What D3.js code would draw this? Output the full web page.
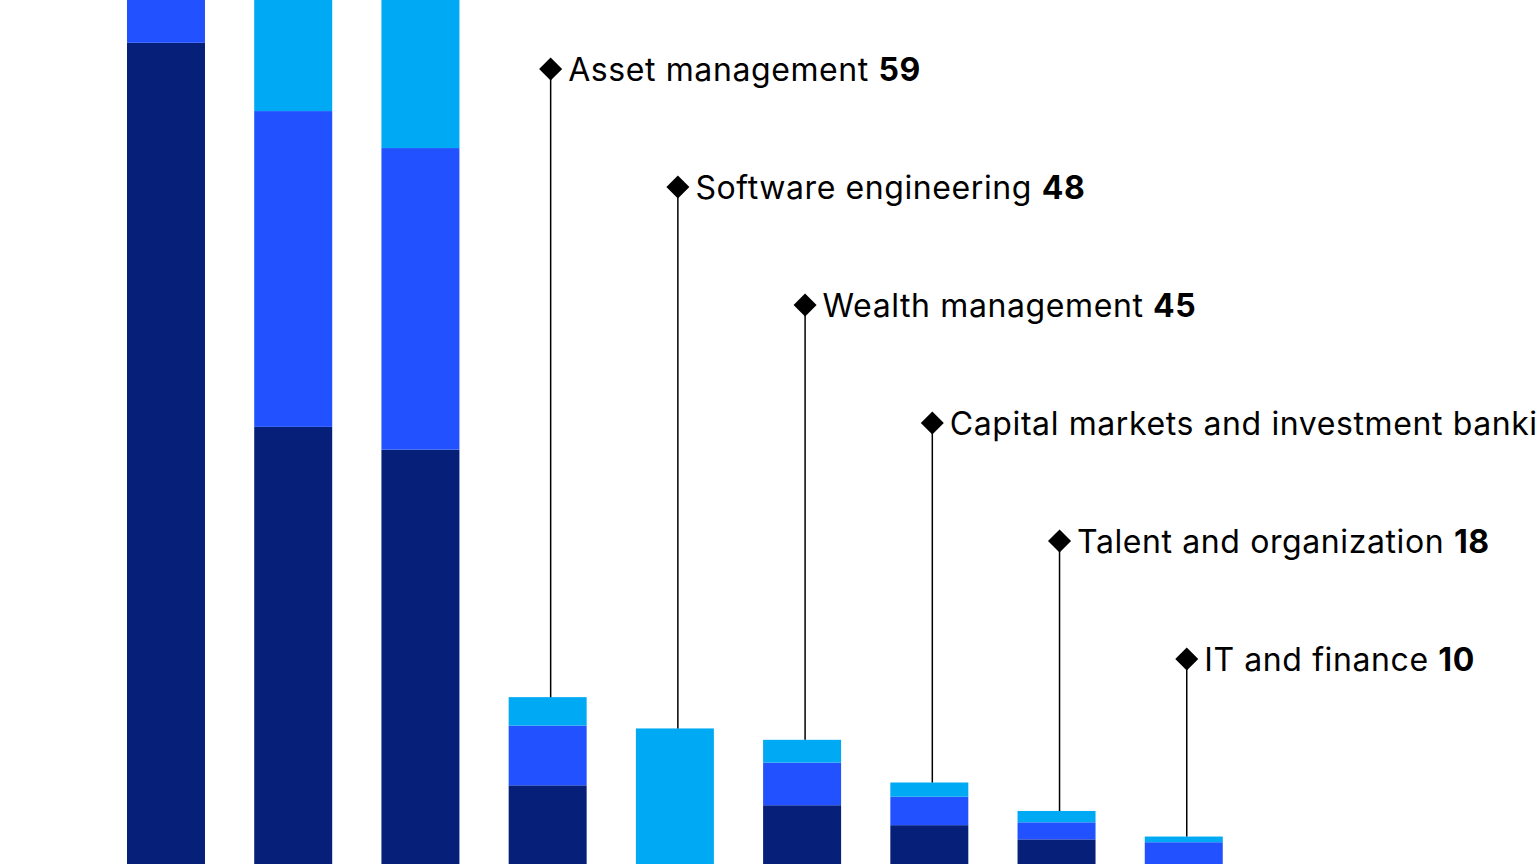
<!DOCTYPE html>
<html>
<head>
<meta charset="utf-8">
<script src="https://cdn.jsdelivr.net/npm/d3@7"></script>
<style>
  html, body { margin: 0; padding: 0; background: #fff; overflow: hidden; }
  svg { display: block; }
  text { font-family: Inter, "Liberation Sans", Arial, sans-serif; }
</style>
</head>
<body>
<svg id="chart" width="1536" height="864"></svg>
<script>
// ---- data ----
const categories = [
  "Group 1", "Group 2", "Group 3",
  "Asset management", "Software engineering", "Wealth management",
  "Capital markets and investment banking", "Talent and organization", "IT and finance"
];
const darkValues  = [289, 154, 146, 28, 0, 21, 14, 9, 0];
const blueValues  = [30, 111, 106, 21, 0, 15, 10, 6, 8];
const lightValues = [15, 50, 60, 10, 48, 8, 5, 4, 2];
const labelValues = [null, null, null, 59, 48, 45, 29, 18, 10];
const seriesKeys  = ["dark", "blue", "light"];
const seriesColors = ["#061F79", "#2251FF", "#00A9F4"];

// ---- build table ----
const table = categories.map((c, i) => ({
  category: c,
  dark: darkValues[i],
  blue: blueValues[i],
  light: lightValues[i],
  label: labelValues[i]
}));

const W = 1536, H = 864;
const svg = d3.select("#chart");

const x = d3.scaleBand()
  .domain(categories)
  .range([127, 1222.75])
  .paddingInner(0.387)
  .paddingOuter(0);

const y = d3.scaleLinear()
  .domain([0, 300])
  .range([865, 11.5]);

const color = d3.scaleOrdinal().domain(seriesKeys).range(seriesColors);

const stacked = d3.stack().keys(seriesKeys)(table);

svg.append("g")
  .selectAll("g")
  .data(stacked)
  .join("g")
  .attr("fill", d => color(d.key))
  .selectAll("rect")
  .data(d => d)
  .join("rect")
  .attr("x", d => x(d.data.category))
  .attr("width", x.bandwidth())
  .attr("y", d => y(d[1]))
  .attr("height", d => Math.max(0, y(d[0]) - y(d[1])));

// ---- labels with diamond markers and leader lines ----
const labelled = table.filter(d => d.label !== null);
const labelTop = 69, labelStep = 118;
const fontSize = 32;

const lg = svg.append("g");
labelled.forEach((d, i) => {
  const total = d.dark + d.blue + d.light;
  const cx = x(d.category) + x.bandwidth() / 2 + 3;
  const cy = labelTop + i * labelStep;
  lg.append("line")
    .attr("x1", cx).attr("x2", cx)
    .attr("y1", cy).attr("y2", y(total))
    .attr("stroke", "#000")
    .attr("stroke-width", 1.5);
  lg.append("path")
    .attr("d", d3.symbol().type(d3.symbolSquare).size(265)())
    .attr("transform", `translate(${cx},${cy}) rotate(45)`)
    .attr("fill", "#000");
  const t = lg.append("text")
    .attr("x", cx + 17.5)
    .attr("y", cy + 11.7)
    .attr("font-size", fontSize)
    .attr("letter-spacing", "0.6px")
    .attr("fill", "#000");
  t.append("tspan").text(d.category + " ");
  t.append("tspan").attr("font-weight", 700).text(d.label);
});
</script>
</body>
</html>
